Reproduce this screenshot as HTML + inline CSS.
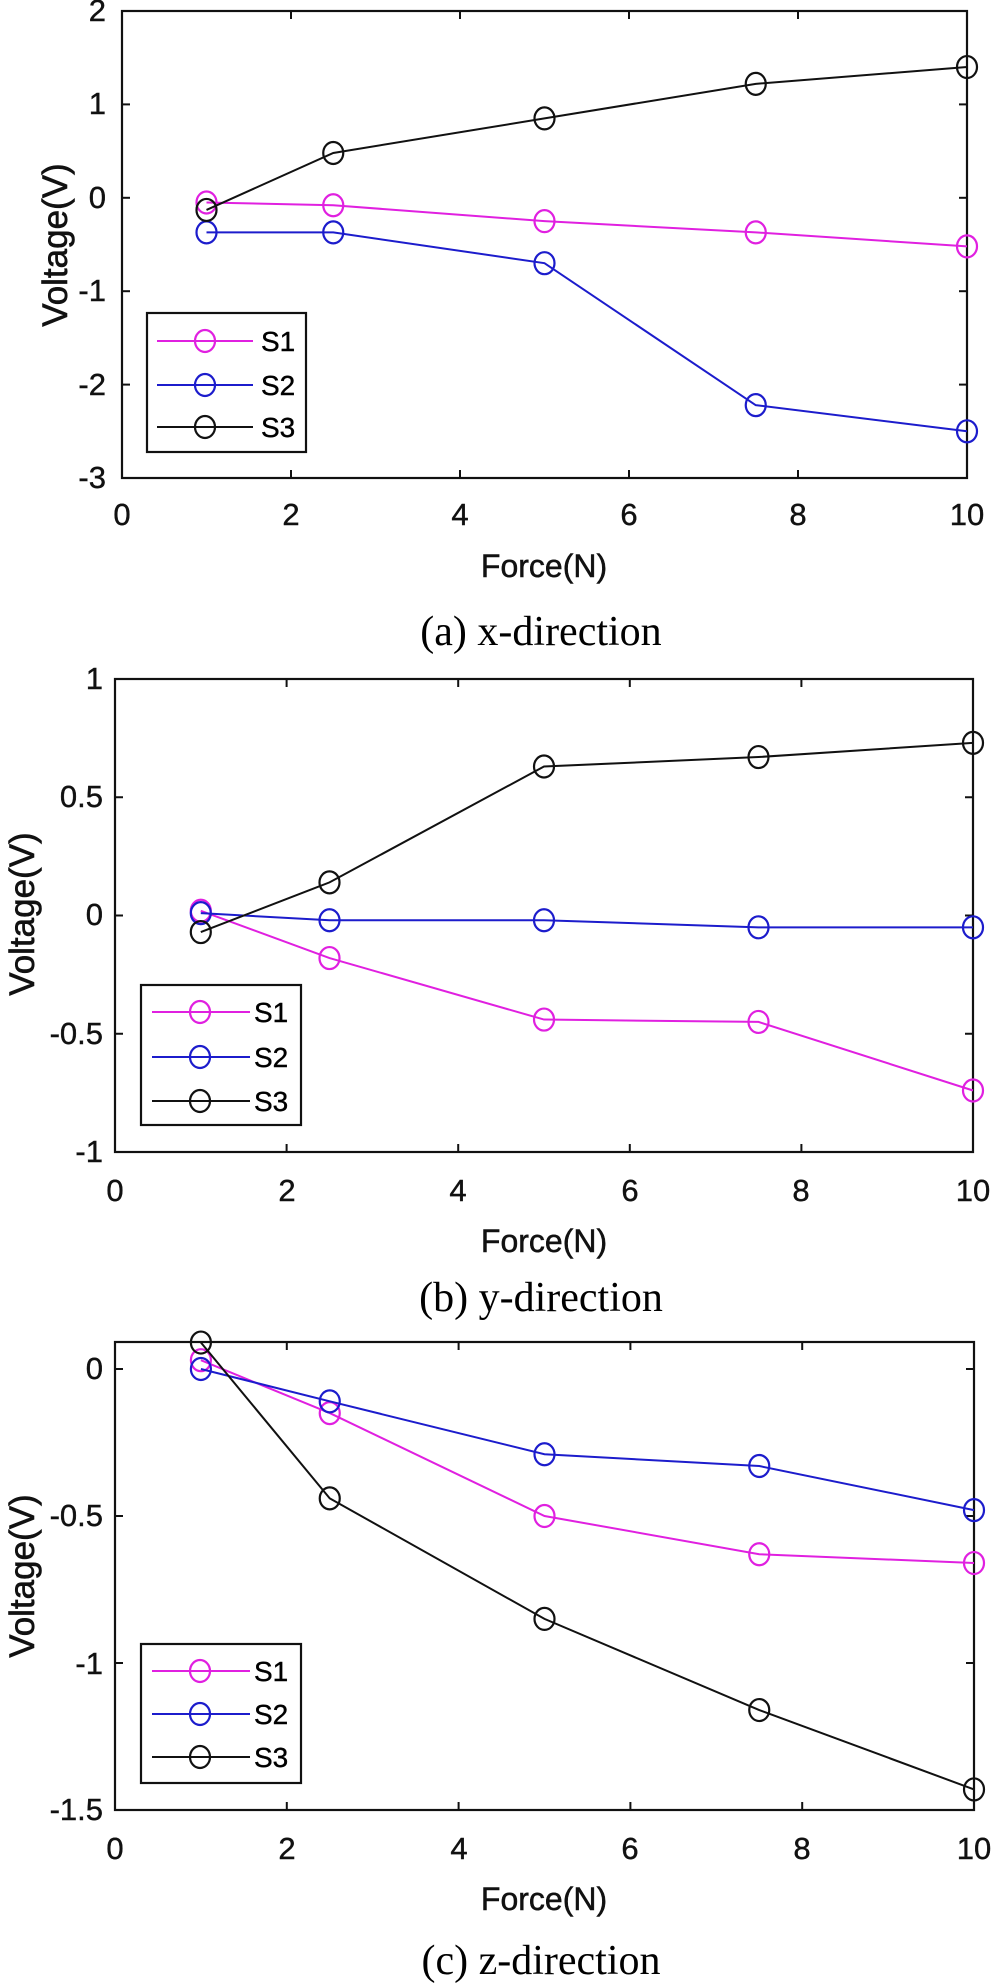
<!DOCTYPE html>
<html><head><meta charset="utf-8"><style>
html,body{margin:0;padding:0;background:#fff;}
svg{display:block;}
.t{font-family:"Liberation Sans",Arial,sans-serif;font-size:31px;fill:#111;stroke:#111;stroke-width:0.4;}
.xl{font-family:"Liberation Sans",Arial,sans-serif;font-size:32px;fill:#111;stroke:#111;stroke-width:0.5;text-anchor:middle;}
.yl{font-family:"Liberation Sans",Arial,sans-serif;font-size:35px;fill:#111;stroke:#111;stroke-width:0.6;text-anchor:middle;}
.cap{font-family:"Liberation Serif","Times New Roman",serif;font-size:42px;fill:#000;text-anchor:middle;}
.lg{font-family:"Liberation Sans",Arial,sans-serif;font-size:28px;fill:#000;stroke:#000;stroke-width:0.4;}
</style></head><body>
<svg id="s" width="1000" height="1985" viewBox="0 0 1000 1985" xmlns="http://www.w3.org/2000/svg">
<g class="t" text-anchor="end">
<text x="106" y="21">2</text><text x="106" y="114">1</text><text x="106" y="208">0</text><text x="106" y="301">-1</text><text x="106" y="395">-2</text><text x="106" y="488">-3</text>
<text x="103" y="689">1</text><text x="103" y="807">0.5</text><text x="103" y="925">0</text><text x="103" y="1044">-0.5</text><text x="103" y="1162">-1</text>
<text x="103" y="1379">0</text><text x="103" y="1526">-0.5</text><text x="103" y="1674">-1</text><text x="103" y="1820">-1.5</text>
</g>
<g class="t" text-anchor="middle">
<text x="122" y="525">0</text><text x="291" y="525">2</text><text x="460" y="525">4</text><text x="629" y="525">6</text><text x="798" y="525">8</text><text x="967" y="525">10</text>
<text x="115" y="1201">0</text><text x="287" y="1201">2</text><text x="458" y="1201">4</text><text x="630" y="1201">6</text><text x="801" y="1201">8</text><text x="973" y="1201">10</text>
<text x="115" y="1859">0</text><text x="287" y="1859">2</text><text x="459" y="1859">4</text><text x="630" y="1859">6</text><text x="802" y="1859">8</text><text x="974" y="1859">10</text>
</g>
<text class="xl" x="544" y="577">Force(N)</text>
<text class="xl" x="544" y="1252">Force(N)</text>
<text class="xl" x="544" y="1910">Force(N)</text>
<text class="yl" transform="translate(67,245) rotate(-90)">Voltage(V)</text>
<text class="yl" transform="translate(34,914) rotate(-90)">Voltage(V)</text>
<text class="yl" transform="translate(34,1576) rotate(-90)">Voltage(V)</text>
<text class="cap" x="541" y="645">(a) x-direction</text>
<text class="cap" x="541" y="1311">(b) y-direction</text>
<text class="cap" x="541" y="1974">(c) z-direction</text>
<g class="lg">
<text x="261" y="351">S1</text><text x="261" y="395">S2</text><text x="261" y="437">S3</text>
<text x="254" y="1022">S1</text><text x="254" y="1067">S2</text><text x="254" y="1111">S3</text>
<text x="254" y="1681">S1</text><text x="254" y="1724">S2</text><text x="254" y="1767">S3</text>
</g>
</svg>
<script>
const NS="http://www.w3.org/2000/svg",svg=document.getElementById('s');
function el(n,a){const e=document.createElementNS(NS,n);for(const k in a)e.setAttribute(k,a[k]);svg.appendChild(e);return e;}
const C=['#e020e0','#1c1ccc','#111'];
const X=[1,2.5,5,7.5,10];
const P=[
 {L:122,R:967,T:11,B:478,v1:2,p1:11,v2:-3,p2:478,yt:[2,1,0,-1,-2,-3],
  d:[[-0.05,-0.08,-0.25,-0.37,-0.52],[-0.37,-0.37,-0.7,-2.22,-2.5],[-0.13,0.48,0.85,1.22,1.4]],
  lg:{x:147,y:313,w:159,h:139,rows:[341,385,427],l1:157,l2:253,m:205}},
 {L:115,R:973,T:679,B:1152,v1:1,p1:679,v2:-1,p2:1152,yt:[1,0.5,0,-0.5,-1],
  d:[[0.02,-0.18,-0.44,-0.45,-0.74],[0.01,-0.02,-0.02,-0.05,-0.05],[-0.07,0.14,0.63,0.67,0.73]],
  lg:{x:141,y:985,w:160,h:140,rows:[1012,1057,1101],l1:152,l2:250,m:200}},
 {L:115,R:974,T:1342,B:1810,v1:0,p1:1369,v2:-1.5,p2:1810,yt:[0,-0.5,-1,-1.5],
  d:[[0.03,-0.15,-0.5,-0.63,-0.66],[0,-0.11,-0.29,-0.33,-0.48],[0.09,-0.44,-0.85,-1.16,-1.43]],
  lg:{x:141,y:1644,w:160,h:139,rows:[1671,1714,1757],l1:152,l2:250,m:200}}
];
P.forEach(p=>{
 const fx=v=>p.L+(p.R-p.L)*v/10, fy=v=>p.p1+(p.p2-p.p1)*(v-p.v1)/(p.v2-p.v1);
 el('rect',{x:p.L,y:p.T,width:p.R-p.L,height:p.B-p.T,fill:'none',stroke:'#111','stroke-width':2.2});
 for(let k=0;k<=10;k+=2){const x=fx(k);el('line',{x1:x,y1:p.B,x2:x,y2:p.B-8,stroke:'#111','stroke-width':2});el('line',{x1:x,y1:p.T,x2:x,y2:p.T+8,stroke:'#111','stroke-width':2});}
 p.yt.forEach(v=>{const y=fy(v);el('line',{x1:p.L,y1:y,x2:p.L+8,y2:y,stroke:'#111','stroke-width':2});el('line',{x1:p.R,y1:y,x2:p.R-8,y2:y,stroke:'#111','stroke-width':2});});
 p.d.forEach((s,i)=>{
  el('polyline',{points:s.map((v,j)=>fx(X[j])+','+fy(v)).join(' '),fill:'none',stroke:C[i],'stroke-width':2});
  s.forEach((v,j)=>el('ellipse',{cx:fx(X[j]),cy:fy(v),rx:10,ry:11,fill:'none',stroke:C[i],'stroke-width':2.2}));
 });
 const g=p.lg;
 el('rect',{x:g.x,y:g.y,width:g.w,height:g.h,fill:'#fff',stroke:'#111','stroke-width':2.2});
 g.rows.forEach((y,i)=>{el('line',{x1:g.l1,y1:y,x2:g.l2,y2:y,stroke:C[i],'stroke-width':2});el('ellipse',{cx:g.m,cy:y,rx:10,ry:11,fill:'none',stroke:C[i],'stroke-width':2.2});});
});
svg.querySelectorAll('.lg').forEach(n=>svg.appendChild(n));
</script>
</body></html>
